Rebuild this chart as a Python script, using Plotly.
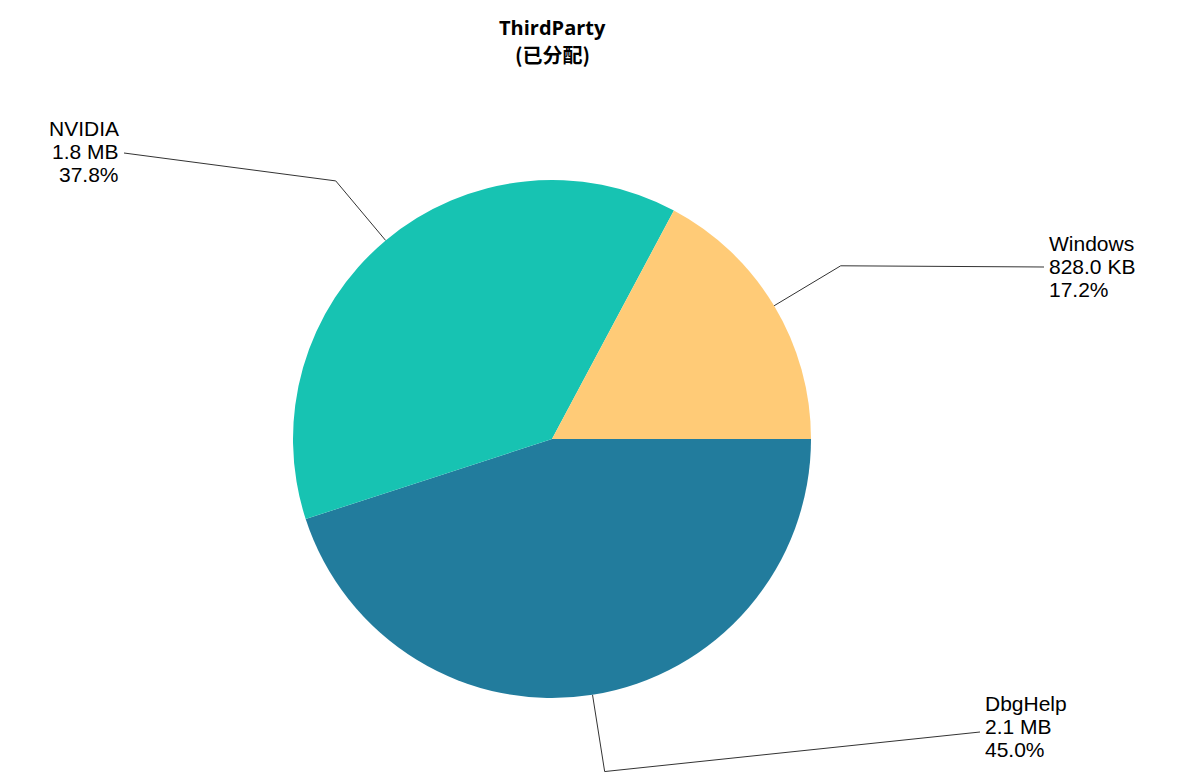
import math
import plotly.graph_objects as go

# ---- data (listed clockwise from 3 o'clock) ----
labels = ["DbgHelp", "NVIDIA", "Windows"]
sizes = ["2.1 MB", "1.8 MB", "828.0 KB"]
percents = [45.0, 37.8, 17.2]
colors = ["#227c9d", "#17c3b2", "#ffcb77"]
title_lines = ["ThirdParty", "(已分配)"]

# ---- layout constants (page pixels) ----
PAGE_W, PAGE_H = 1186, 783
OFF = 8                      # default body margin of the html page
W, H = PAGE_W - 2 * OFF, PAGE_H - 2 * OFF
CX, CY, R = 552, 439, 259
ELBOW = 1.3
# end of leader line relative to pie centre
label_anchor = [(428, 293), (-428, -286), (492, -172)]
label_text_dy = [-6, -2, -1]
label_side = ["left", "right", "left"]
LINE_STEP = 23

FONT = "Liberation Sans, Arial, sans-serif"

fig = go.Figure()
fig.add_trace(go.Pie(
    labels=labels, values=percents, sort=False, direction="clockwise",
    rotation=90, marker=dict(colors=colors, line=dict(width=0)),
    textinfo="none", hoverinfo="label+percent", showlegend=False,
    domain=dict(x=[(CX - R - OFF) / W, (CX + R - OFF) / W],
                y=[1 - (CY + R - OFF) / H, 1 - (CY - R - OFF) / H]),
))

total = sum(percents)
cum = 0.0
annotations = []
for i, (lab, sz, p) in enumerate(zip(labels, sizes, percents)):
    # clockwise from 3 o'clock
    mid = -(cum + p / 2) / total * 2 * math.pi
    cum += p
    x1, y1 = CX + R * math.cos(mid), CY - R * math.sin(mid)
    x2, y2 = CX + ELBOW * R * math.cos(mid), CY - ELBOW * R * math.sin(mid)
    ax, ay = CX + label_anchor[i][0], CY + label_anchor[i][1]
    fig.add_trace(go.Scatter(x=[x1, x2, ax], y=[y1, y2, ay], mode="lines",
                             line=dict(color="#333333", width=1), hoverinfo="skip",
                             showlegend=False, xaxis="x", yaxis="y"))
    side = label_side[i]
    lines = [lab, sz, f"{p:.1f}%"]
    for k, t in enumerate(lines):
        annotations.append(dict(
            x=ax + (3 if side == "left" else -3),
            y=ay + label_text_dy[i] + (k - 1) * LINE_STEP,
            xref="x", yref="y", text=t, showarrow=False,
            xanchor=side, yanchor="middle", align=side,
            font=dict(family=FONT, size=21, color="#000000"),
        ))

annotations.append(dict(x=CX, y=27, xref="x", yref="y", text=f"<b>{title_lines[0]}</b>",
                        showarrow=False, xanchor="center", yanchor="middle",
                        font=dict(family="Open Sans, Noto Sans CJK SC, sans-serif", size=20, color="#000")))
annotations.append(dict(x=CX, y=54, xref="x", yref="y", text=f"<b>{title_lines[1]}</b>",
                        showarrow=False, xanchor="center", yanchor="middle",
                        font=dict(family="Noto Sans CJK SC, sans-serif", size=20, color="#000")))

fig.update_layout(
    width=W, height=H, margin=dict(l=0, r=0, t=0, b=0),
    paper_bgcolor="white", plot_bgcolor="rgba(0,0,0,0)",
    xaxis=dict(range=[OFF, OFF + W], visible=False, fixedrange=True),
    yaxis=dict(range=[OFF + H, OFF], visible=False, fixedrange=True),
    annotations=annotations,
)
fig.write_html("out.html")
